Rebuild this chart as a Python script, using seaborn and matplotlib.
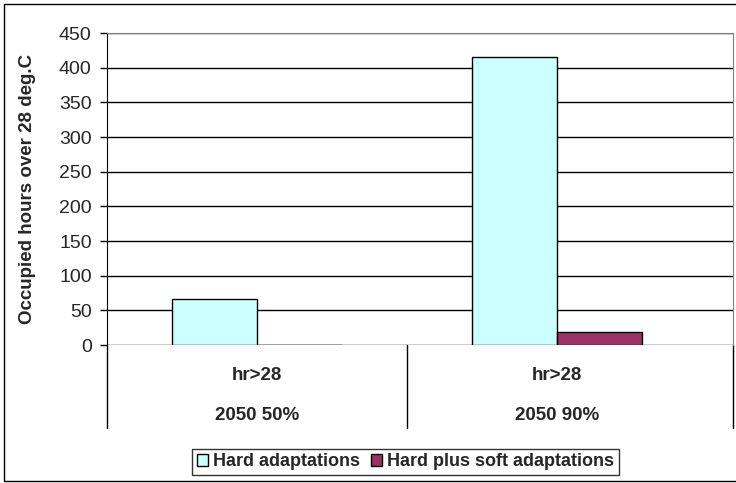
import matplotlib
matplotlib.use("Agg")
import matplotlib.pyplot as plt
import seaborn as sns
import pandas as pd
from matplotlib.patches import Rectangle

# data
scenarios = ["2050 50%", "2050 90%"]
metric = ["hr>28", "hr>28"]
hard = [66, 415]
hard_soft = [0, 19]
series_names = ["Hard adaptations", "Hard plus soft adaptations"]
colors = ["#CCFFFF", "#993366"]

df = pd.DataFrame({
    "scenario": scenarios * 2,
    "hours": hard + hard_soft,
    "series": [series_names[0]] * 2 + [series_names[1]] * 2,
})

sns.set_style("white")
plt.rcParams["font.family"] = ["Liberation Sans", "DejaVu Sans"]

W, H = 736, 483
fig = plt.figure(figsize=(W / 100, H / 100), dpi=100)
x0, x1, ytop, ybot = 107, 733, 33, 345
ax = fig.add_axes([x0 / W, (H - ybot) / H, (x1 - x0) / W, (ybot - ytop) / H])

sns.barplot(data=df, x="scenario", y="hours", hue="series", palette=colors,
            width=0.567, edgecolor="black", linewidth=1, saturation=1,
            ax=ax, zorder=3)

# category unit = 300 px
ax.set_xlim(-0.5, (x1 - x0) / 300 - 0.5)
ax.set_ylim(0, 450)
ax.set_yticks(range(0, 451, 50))
ax.yaxis.grid(True, color="black", linewidth=1)
ax.set_axisbelow(True)
ax.tick_params(axis="y", left=True, length=5, width=1, pad=6, labelsize=14, color="black")
ax.tick_params(axis="x", bottom=False, labelbottom=False)
for s in ["top", "right"]:
    ax.spines[s].set_color("#808080")
ax.spines["bottom"].set_visible(False)
ax.spines["left"].set_color("black")
ax.set_xlabel("")
ax.set_ylabel("Occupied hours over 28 deg.C", fontsize=13.5, fontweight="bold")
ax.yaxis.set_label_coords((36 - x0) / (x1 - x0), 0.5)

# multi-level category axis below plot
tr = ax.get_xaxis_transform()
ylow = (ybot - 428) / (ybot - ytop)
xr = ax.get_xlim()[1]
for xv in [-0.5, 0.5, xr]:
    ax.plot([xv, xv], [0, ylow], color="black", lw=1, transform=tr, clip_on=False)
for i, (m, sc) in enumerate(zip(metric, scenarios)):
    ax.text(i, (ybot - 376) / (ybot - ytop), m, transform=tr, ha="center", va="center",
            fontsize=13.5, fontweight="bold")
    ax.text(i, (ybot - 415) / (ybot - ytop), sc, transform=tr, ha="center", va="center",
            fontsize=13.5, fontweight="bold")

handles, labels = ax.get_legend_handles_labels()
ax.get_legend().remove()
leg = fig.legend(handles, labels, loc="center", bbox_to_anchor=(405.5 / W, (H - 462) / H),
                 ncol=2, frameon=True, fancybox=False, edgecolor="black",
                 prop={"weight": "bold", "size": 13}, handlelength=0.6, handleheight=0.6,
                 handletextpad=0.3, columnspacing=0.6, borderpad=0.25)
leg.get_frame().set_linewidth(1)

# outer chart frame
fig.add_artist(Rectangle((4 / W, 2 / H), 1, 477 / H, fill=False, edgecolor="black",
                         lw=1, transform=fig.transFigure))

fig.savefig("out.png", dpi=100)
